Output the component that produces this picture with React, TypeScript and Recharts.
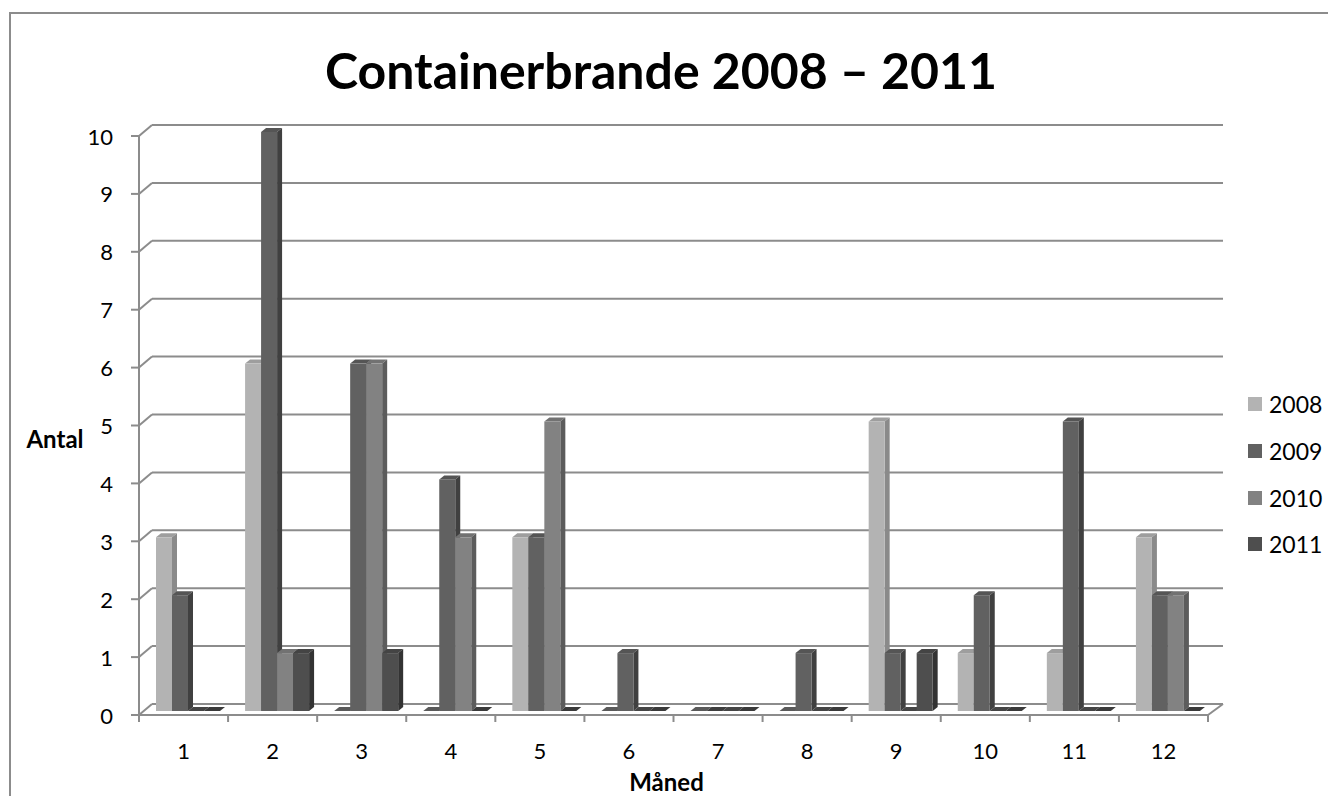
import React from "react";
import { BarChart, Bar, XAxis, YAxis, CartesianGrid, Legend } from "recharts";

// ---- data ----
const months = ["1", "2", "3", "4", "5", "6", "7", "8", "9", "10", "11", "12"];
const y2008 = [3, 6, 0, 0, 3, 0, 0, 0, 5, 1, 1, 3];
const y2009 = [2, 10, 6, 4, 3, 1, 0, 1, 1, 2, 5, 2];
const y2010 = [0, 1, 6, 3, 5, 0, 0, 0, 0, 0, 0, 2];
const y2011 = [0, 1, 1, 0, 0, 0, 0, 0, 1, 0, 0, 0];
const seriesNames = ["2008", "2009", "2010", "2011"];
const yTicks = [0, 1, 2, 3, 4, 5, 6, 7, 8, 9, 10];

const data = months.map((m, i) => ({
  month: m,
  "2008": y2008[i],
  "2009": y2009[i],
  "2010": y2010[i],
  "2011": y2011[i],
}));

// ---- styles ----
const FONT = "Lato, 'Liberation Sans', sans-serif";
const LINE = "#8c8c8c";
const colors: Record<string, { front: string; side: string; top: string; flat: string }> = {
  "2008": { front: "#b3b3b3", side: "#8a8a8a", top: "#9e9e9e", flat: "#5a5a5a" },
  "2009": { front: "#616161", side: "#404040", top: "#555555", flat: "#3e3e3e" },
  "2010": { front: "#828282", side: "#5c5c5c", top: "#727272", flat: "#454545" },
  "2011": { front: "#4e4e4e", side: "#333333", top: "#444444", flat: "#3a3a3a" },
};

// layout (chart placed at page offset 8,8)
const W = 1320;
const H = 788;
const MARGIN = { top: 128, right: 120, left: 71, bottom: 21 };
const Y_AXIS_W = 60;
const X_AXIS_H = 60;
const PLOT_LEFT = MARGIN.left + Y_AXIS_W;
const PLOT_RIGHT = W - MARGIN.right;
const PLOT_BOTTOM = H - MARGIN.bottom - X_AXIS_H;
const PLOT_W = PLOT_RIGHT - PLOT_LEFT;

// 3D offsets
const SX = 4, SY = -4; // bar plane offset from front plane
const DX = 5, DY = 4; // bar depth
const BX = 13, BY = -11; // back wall offset

const makeShape = (name: string) => (props: any) => {
  const { x, y, width, height } = props;
  const c = colors[name];
  const h = Math.max(0, height || 0);
  const x0 = x + SX;
  const y0 = y + SY;
  const topPts = `${x0},${y0} ${x0 + DX},${y0 - DY} ${x0 + width + DX},${y0 - DY} ${x0 + width},${y0}`;
  if (h < 0.5) {
    return <polygon points={topPts} fill={c.flat} />;
  }
  const sidePts = `${x0 + width},${y0} ${x0 + width + DX},${y0 - DY} ${x0 + width + DX},${y0 + h - DY} ${x0 + width},${y0 + h}`;
  return (
    <g>
      <polygon points={topPts} fill={c.top} />
      <polygon points={sidePts} fill={c.side} />
      <rect x={x0} y={y0} width={width} height={h} fill={c.front} />
    </g>
  );
};

const gridLine = (p: any) => {
  const { x1, x2, y1 } = p;
  const isBottom = Math.abs(y1 - PLOT_BOTTOM) < 1;
  return (
    <g key={p.key}>
      <line x1={x1} y1={y1} x2={x1 + BX} y2={y1 + BY} stroke={LINE} strokeWidth={2} />
      <line x1={x1 + BX} y1={y1 + BY} x2={x2 + BX + 2} y2={y1 + BY} stroke={LINE} strokeWidth={2} />
      {isBottom && <line x1={x2} y1={y1} x2={x2 + BX + 2} y2={y1 + BY} stroke={LINE} strokeWidth={2} />}
    </g>
  );
};

const XTick = (p: any) => {
  const { x, y, payload, index } = p;
  const band = PLOT_W / months.length;
  return (
    <g>
      <line x1={x - band / 2} y1={y} x2={x - band / 2} y2={y + 7} stroke={LINE} strokeWidth={2} />
      {index === months.length - 1 && (
        <line x1={x + band / 2} y1={y} x2={x + band / 2} y2={y + 7} stroke={LINE} strokeWidth={2} />
      )}
      <text x={x} y={y + 35} textAnchor="middle" dominantBaseline="central" fontFamily={FONT} fontSize={22} fill="#000">
        {payload.value}
      </text>
    </g>
  );
};

const YTick = (p: any) => {
  const { x, y, payload } = p;
  return (
    <text x={x} y={y} textAnchor="end" dominantBaseline="central" fontFamily={FONT} fontSize={22} fill="#000">
      {payload.value}
    </text>
  );
};

const LegendContent = () => (
  <div style={{ fontFamily: FONT, fontSize: 23, color: "#000", whiteSpace: "nowrap" }}>
    {seriesNames.map((n) => (
      <div key={n} style={{ display: "flex", alignItems: "center", height: 46.7 }}>
        <span style={{ display: "inline-block", width: 14, height: 14, background: colors[n].front, marginRight: 7 }} />
        <span>{n}</span>
      </div>
    ))}
  </div>
);

export default function App() {
  return (
    <div style={{ position: "relative", width: 1328, height: 796, overflow: "hidden", background: "#fff" }}>
      <style>{`html,body{margin:0;padding:0;overflow:hidden;}`}</style>
      <div
        style={{
          position: "absolute",
          left: 9,
          top: 12,
          width: 1340,
          height: 820,
          border: "2px solid #8c8c8c",
          boxSizing: "border-box",
        }}
      />
      <div style={{ position: "absolute", left: 8, top: 8, width: W, height: H }}>
        <BarChart width={W} height={H} data={data} margin={MARGIN} barSize={16} barGap={0}>
          <CartesianGrid vertical={false} horizontal={gridLine} stroke={LINE} />
          <XAxis
            dataKey="month"
            height={X_AXIS_H}
            tickSize={0}
            tickMargin={0}
            tickLine={false}
            axisLine={{ stroke: LINE, strokeWidth: 2 }}
            tick={<XTick />}
            interval={0}
            label={{
              content: () => (
                <text
                  x={PLOT_LEFT + PLOT_W / 2 - 7}
                  y={781 - 8}
                  textAnchor="middle"
                  dominantBaseline="central"
                  fontFamily={FONT}
                  fontWeight="bold"
                  fontSize={24}
                  fill="#000"
                >
                  Måned
                </text>
              ),
            }}
          />
          <YAxis
            width={Y_AXIS_W}
            domain={[0, 10]}
            ticks={yTicks}
            interval={0}
            tickSize={8}
            tickMargin={18}
            tickLine={{ stroke: LINE, strokeWidth: 2 }}
            axisLine={{ stroke: LINE, strokeWidth: 2 }}
            tick={<YTick />}
            label={{
              content: () => (
                <text
                  x={55 - 8}
                  y={438 - 8}
                  textAnchor="middle"
                  dominantBaseline="central"
                  fontFamily={FONT}
                  fontWeight="bold"
                  fontSize={24}
                  fill="#000"
                >
                  Antal
                </text>
              ),
            }}
          />
          <Legend
            layout="vertical"
            align="center"
            verticalAlign="middle"
            content={<LegendContent />}
            wrapperStyle={{ left: 1240, top: 373, width: 80 }}
          />
          {seriesNames.map((n) => (
            <Bar key={n} dataKey={n} fill={colors[n].front} shape={makeShape(n)} isAnimationActive={false} />
          ))}
        </BarChart>
      </div>
      <svg width={1328} height={130} style={{ position: "absolute", left: 0, top: 0, pointerEvents: "none" }}>
        <text
          x={661}
          y={70}
          textAnchor="middle"
          dominantBaseline="central"
          fontFamily={FONT}
          fontWeight="bold"
          fontSize={50}
          fill="#000"
        >
          Containerbrande 2008 – 2011
        </text>
      </svg>
    </div>
  );
}
